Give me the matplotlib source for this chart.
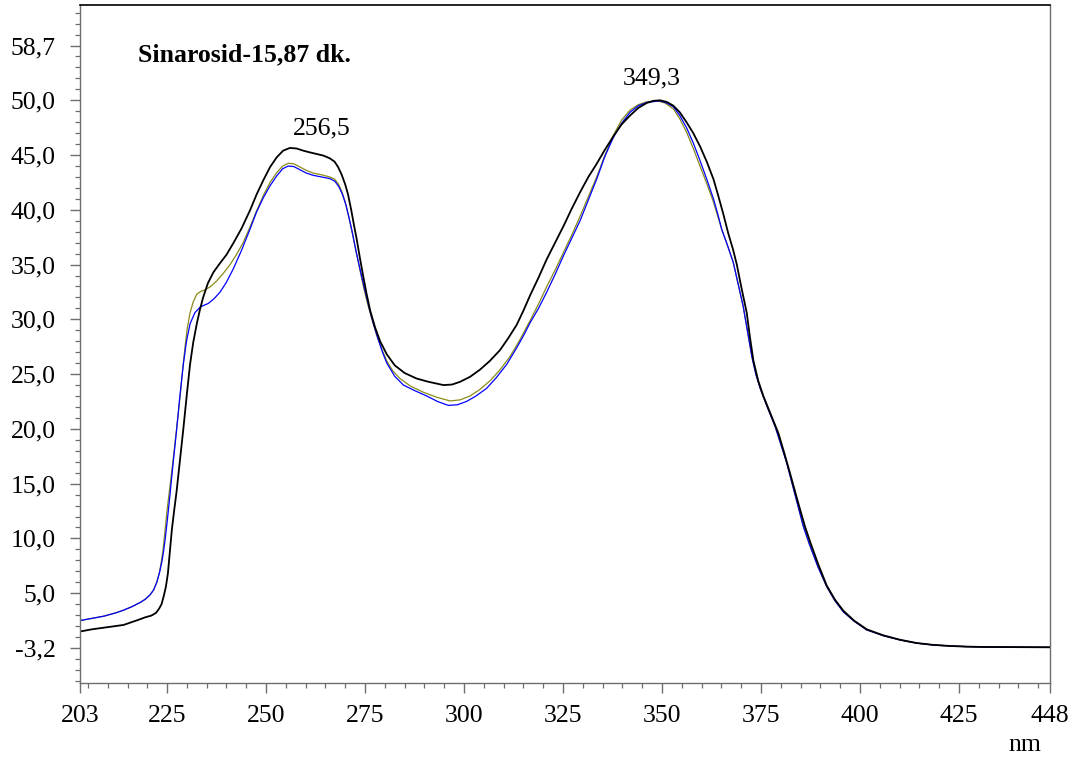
import matplotlib
matplotlib.use("Agg")
import matplotlib.pyplot as plt
from matplotlib.ticker import FixedLocator, MultipleLocator

plt.rcParams['font.family'] = ['Liberation Serif', 'DejaVu Serif']

# ==================== data (nm, position on the absorbance axis) ====================
black_x = [203, 206, 209, 212, 214, 216, 218, 219.5, 221, 222.2, 223, 223.6, 224.2, 224.7,
           225.2, 225.7, 226.2, 226.8, 227.4, 228.2, 229.1, 230, 230.8, 231.6, 232.5, 233.3,
           234.1, 235.3, 236.7, 238.3, 240, 241.8, 243.8, 246, 247.6, 249.3, 251, 252.7,
           254.3, 256, 257.7, 259.4, 261, 262.8, 264.5, 266.1, 267.3, 268.2, 269.1, 270,
           270.7, 271.5, 272.2, 272.9, 273.7, 274.5, 275.4, 276.3, 277.5, 278.8, 280.5,
           282.5, 285, 288, 291, 294.8, 297, 299, 301.5, 304, 306.5, 309.1, 311.2, 313.3,
           315, 316.7, 318.8, 320.9, 323, 325.1, 327.2, 329.3, 331.4, 333.5, 335.6, 337.7,
           339.8, 341.9, 344, 346.1, 347.8, 349.5, 351.2, 352.9, 354.5, 356.2, 357.9, 359.6,
           361.3, 363, 364.2, 365.5, 366.7, 368, 368.9, 370, 371.4, 372.2, 373.1, 374.3,
           375.6, 377.5, 379.4, 380.8, 382.3, 384.2, 386.1, 387.5, 389.5, 391.6, 393.7,
           395.8, 398.5, 401.7, 405.9, 410.1, 414.3, 418.5, 422.8, 427, 431.2, 440, 448]
black_y = [1.5, 1.7, 1.85, 2.0, 2.1, 2.35, 2.6, 2.8, 2.95, 3.2, 3.6, 4.0, 4.8, 5.6,
           6.8, 8.8, 10.8, 12.6, 14.3, 17.0, 20.0, 23.2, 25.9, 27.9, 29.6, 30.9,
           32.0, 33.3, 34.3, 35.1, 35.9, 37.0, 38.3, 40.0, 41.4, 42.7, 43.9, 44.8,
           45.4, 45.65, 45.6, 45.4, 45.25, 45.1, 44.95, 44.7, 44.4, 43.9, 43.2, 42.3,
           41.4, 40.0, 38.6, 37.3, 35.6, 34.0, 32.3, 30.8, 29.3, 28.0, 26.8,
           25.8, 25.1, 24.6, 24.3, 24.0, 24.05, 24.3, 24.75, 25.4, 26.2, 27.2, 28.3, 29.5,
           30.8, 32.2, 33.8, 35.5, 37.0, 38.5, 40.1, 41.6, 43.0, 44.2, 45.5, 46.7,
           47.8, 48.6, 49.3, 49.75, 49.95, 50.0, 49.85, 49.5, 48.9, 48.0, 47.0, 45.8,
           44.4, 42.8, 41.3, 39.6, 37.9, 36.3, 35.0, 33.0, 30.6, 28.4, 26.2, 24.4,
           23.0, 21.3, 19.6, 17.9, 16.0, 13.5, 11.1, 9.6, 7.6, 5.7, 4.4,
           3.4, 2.5, 1.7, 1.15, 0.75, 0.45, 0.28, 0.18, 0.12, 0.09, 0.07, 0.06]

olive_x = [203, 206, 209, 212, 214, 216, 218.2, 219.5, 220.7, 221.6, 222.4, 223, 223.5, 224,
           224.5, 225, 225.8, 226.6, 227.4, 228.3, 228.9, 229.5, 230.1, 230.8, 231.6, 232.5,
           233.5, 234.6, 236, 237.5, 239.2, 240.9, 242.5, 244.2, 245.9, 247.6, 249.3, 251,
           252.7, 254.2, 255.6, 257, 258.6, 260.2, 261.9, 264, 266.1, 267.3, 268.2, 269.1,
           270, 270.8, 271.6, 272.6, 273.7, 274.7, 275.8, 276.9, 278, 279.2, 280.5, 282,
           283.8, 286.5, 289.7, 293, 296.5, 299, 301.5, 304, 306.6, 309.1, 311.6, 314.2,
           316.7, 318.8, 320.9, 323, 325.1, 327.2, 329.3, 331.4, 333.5, 335.6, 337.7, 339.8,
           341.9, 344, 346.1, 348.7, 350.8, 352.9, 354.5, 356.2, 357.9, 359.6, 361.3, 363,
           364.1, 365.1, 366.5, 368, 369.2, 370.5, 371.6, 372.7, 373.7, 374.8, 376.7, 378.6,
           380, 381.5, 383.6, 385.7, 387.2, 389.4, 391.6, 393.7, 395.8, 398.5, 401.7, 405.9,
           410.1, 414.3, 418.5, 422.8, 427, 431.2, 440, 448]
olive_y = [2.5, 2.7, 2.9, 3.2, 3.45, 3.75, 4.15, 4.45, 4.85, 5.3, 6.0, 6.8, 7.8, 9.0,
           10.8, 12.6, 15.0, 17.4, 20.0, 23.0, 25.3, 27.4, 29.2, 30.6, 31.6, 32.3,
           32.55, 32.7, 33.0, 33.5, 34.2, 35.0, 35.9, 37.0, 38.4, 39.9, 41.3, 42.5,
           43.4, 44.0, 44.25, 44.2, 43.9, 43.6, 43.35, 43.2, 43.0, 42.8, 42.4, 41.7,
           40.7, 39.5, 38.2, 36.4, 34.5, 32.8, 31.2, 29.8, 28.5, 27.3, 26.2, 25.3,
           24.6, 23.9, 23.35, 22.9, 22.55, 22.65, 23.0, 23.6, 24.4, 25.4, 26.6, 28.2,
           29.9, 31.4, 33.0, 34.5, 36.1, 37.7, 39.4, 41.2, 43.0, 45.0, 46.8, 48.2,
           49.1, 49.6, 49.85, 49.95, 49.75, 49.2, 48.3, 47.1, 45.6, 44.0, 42.4, 40.7,
           39.4, 38.2, 36.8, 35.2, 33.3, 31.2, 28.9, 26.6, 25.0, 23.7, 21.9, 20.2,
           18.6, 16.9, 14.0, 11.1, 9.5, 7.4, 5.6, 4.3, 3.3, 2.45, 1.65, 1.12,
           0.73, 0.44, 0.27, 0.18, 0.12, 0.09, 0.07, 0.06]

blue_x = [203, 206, 209, 212, 214, 216, 218.2, 219.5, 220.7, 221.6, 222.4, 223.1, 223.7, 224.1,
          224.5, 225.1, 225.7, 226.5, 227.4, 228.2, 229.1, 229.9, 230.8, 232, 233.3, 234.4,
          235.4, 236.9, 238.4, 240, 241.7, 243.8, 245.9, 247.6, 249.3, 251, 252.7, 254.2,
          255.6, 257, 258.6, 260.2, 261.9, 264, 266.1, 267.4, 268.4, 269.3, 270.2, 271,
          271.8, 272.8, 273.9, 275, 276, 277.1, 278.3, 279.5, 280.5, 282.5, 284.7, 287.5,
          290.6, 293.3, 296, 298.3, 300.6, 303, 305.7, 308.2, 310.8, 313.3, 315, 316.7,
          318.8, 320.9, 323, 325.1, 327.2, 329.3, 331.4, 333.5, 335.6, 337.7, 339.8, 341.9,
          344, 346.1, 349.5, 351.2, 352.9, 354.5, 356.2, 357.9, 359.6, 361.3, 363, 364.1,
          365.1, 366.5, 368, 369.2, 370.5, 371.6, 372.7, 373.7, 374.8, 376.7, 378.6, 380,
          381.5, 383.6, 385.7, 387.2, 389.4, 391.6, 393.7, 395.8, 398.5, 401.7, 405.9,
          410.1, 414.3, 418.5, 422.8, 427, 431.2, 440, 448]
blue_y = [2.5, 2.7, 2.9, 3.2, 3.45, 3.75, 4.15, 4.45, 4.85, 5.3, 6.0, 6.9, 7.9, 8.8,
          9.9, 11.8, 13.9, 16.8, 19.9, 22.9, 25.9, 28.0, 29.6, 30.6, 31.1, 31.3,
          31.45, 31.9, 32.5, 33.4, 34.6, 36.3, 38.2, 39.8, 41.1, 42.2, 43.1, 43.75,
          44.0, 43.95, 43.65, 43.35, 43.15, 43.0, 42.85, 42.6, 42.1, 41.4, 40.4, 39.2,
          37.9, 36.1, 34.3, 32.6, 31.1, 29.6, 28.2, 26.9, 26.0, 24.8, 24.0, 23.5,
          23.0, 22.5, 22.15, 22.2, 22.5, 23.0, 23.7, 24.7, 25.9, 27.4, 28.5, 29.7,
          31.0, 32.5, 34.1, 35.8, 37.4, 39.0, 40.9, 42.8, 44.9, 46.6, 47.9, 48.9,
          49.5, 49.8, 49.95, 49.75, 49.4, 48.6, 47.5, 46.1, 44.5, 42.8, 41.0, 39.6,
          38.2, 36.8, 35.2, 33.3, 31.2, 28.9, 26.6, 25.0, 23.7, 21.9, 20.2, 18.6,
          16.9, 14.0, 11.1, 9.5, 7.4, 5.6, 4.3, 3.3, 2.45, 1.65, 1.12,
          0.73, 0.44, 0.27, 0.18, 0.12, 0.09, 0.07, 0.06]

x_ticks = [203, 225, 250, 275, 300, 325, 350, 375, 400, 425, 448]
y_ticks = [0, 5, 10, 15, 20, 25, 30, 35, 40, 45, 50, 55]
y_tick_labels = ["-3,2", "5,0", "10,0", "15,0", "20,0", "25,0", "30,0", "35,0",
                 "40,0", "45,0", "50,0", "58,7"]

title = "Sinarosid-15,87 dk."
peaks = [(264.0, 47.4, "256,5"), (347.5, 52.0, "349,3")]

# ==================== plot ====================
fig = plt.figure(figsize=(10.83, 7.60), dpi=100)
ax = fig.add_axes([80 / 1083, 1 - 683 / 760, 970 / 1083, 678 / 760])

ax.plot(olive_x, olive_y, color="#8a8a1a", lw=0.9, solid_joinstyle="round")
ax.plot(blue_x, blue_y, color="#0000ff", lw=0.9, solid_joinstyle="round")
ax.plot(black_x, black_y, color="black", lw=1.3, solid_joinstyle="round")

ax.set_xlim(203, 448)
ax.set_ylim(-3.2, 58.7)

ax.xaxis.set_major_locator(FixedLocator(x_ticks))
ax.xaxis.set_minor_locator(MultipleLocator(5))
ax.yaxis.set_major_locator(FixedLocator(y_ticks))
ax.set_yticklabels(y_tick_labels)
ax.yaxis.set_minor_locator(MultipleLocator(1))

gray = "#6e6e6e"
ax.tick_params(which="major", length=7.5, width=1.0, color=gray, labelsize=18.5, pad=10)
ax.tick_params(which="minor", length=3.8, width=0.9, color=gray)
ax.tick_params(axis="x", which="major", pad=8)
for side in ["left", "bottom", "right"]:
    ax.spines[side].set_color(gray)
    ax.spines[side].set_linewidth(1.0)
ax.spines["top"].set_color("black")
ax.spines["top"].set_linewidth(1.2)

ax.text(0.0598, 0.926, title, transform=ax.transAxes, fontsize=18.5,
        fontweight="bold", ha="left", va="center")
for px, py, lbl in peaks:
    ax.text(px, py, lbl, fontsize=18.5, ha="center", va="center")

fig.text(1025 / 1083, 1 - 745 / 760, "nm", fontsize=18.5, ha="center", va="center")

fig.savefig("out.png", dpi=100)
